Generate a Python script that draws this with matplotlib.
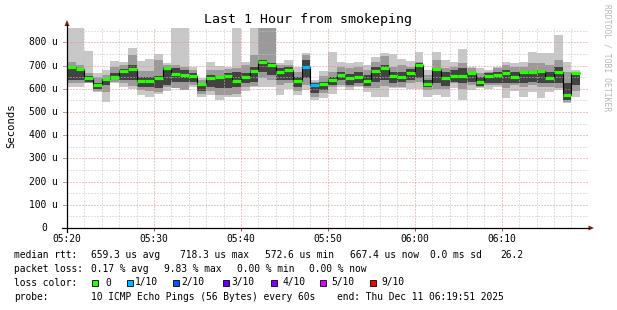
import numpy as np
import matplotlib
matplotlib.use("Agg")
import matplotlib.pyplot as plt
from matplotlib.patches import Rectangle, Polygon
from matplotlib.lines import Line2D

W, H = 617, 310

# one column per minute, 05:20 .. 06:18 (values in microseconds)
median = [695, 684, 646, 615, 644, 651, 678, 687, 635, 635, 646, 690, 664, 659, 654,
          621, 648, 650, 654, 635, 651, 678, 715, 702, 672, 682, 635, 695, 615, 621,
          638, 659, 646, 652, 635, 678, 690, 655, 652, 668, 702, 621, 684, 646, 654,
          655, 668, 628, 655, 658, 668, 651, 674, 672, 677, 648, 672, 572, 667]
loss = [0] * 27 + [1, 1] + [0] * 30

# smoke: outer (lightest), middle and inner (darkest) ranges
hi1 = [862, 862, 761, 667, 681, 720, 717, 774, 720, 727, 750, 710, 862, 862, 695,
       645, 717, 698, 695, 862, 717, 862, 862, 862, 710, 724, 695, 753, 638, 677,
       760, 717, 710, 717, 703, 739, 756, 750, 727, 720, 760, 681, 760, 724, 717,
       770, 695, 688, 681, 695, 717, 713, 717, 760, 756, 756, 832, 717, 681]
lo1 = [609, 606, 624, 588, 545, 624, 606, 598, 573, 566, 578, 592, 624, 624, 609,
       563, 573, 552, 566, 566, 592, 606, 606, 606, 573, 598, 573, 595, 552, 559,
       578, 606, 595, 606, 588, 566, 566, 602, 602, 598, 598, 566, 573, 566, 602,
       552, 595, 602, 598, 606, 559, 592, 566, 588, 559, 588, 595, 537, 563]
hi2 = [717, 703, 667, 649, 659, 695, 703, 746, 678, 678, 724, 703, 703, 695, 681,
       638, 681, 681, 684, 688, 703, 746, 862, 862, 703, 703, 674, 746, 631, 655,
       674, 695, 688, 695, 681, 717, 741, 695, 703, 695, 717, 659, 724, 688, 695,
       710, 688, 667, 674, 688, 703, 695, 695, 710, 710, 703, 724, 674, 674]
lo2 = [624, 624, 624, 592, 588, 631, 624, 612, 595, 592, 588, 606, 602, 595, 616,
       578, 592, 573, 573, 578, 606, 612, 645, 638, 616, 624, 592, 616, 566, 580,
       606, 616, 606, 612, 602, 602, 612, 606, 609, 624, 631, 595, 598, 598, 624,
       598, 616, 609, 616, 616, 602, 616, 606, 616, 606, 609, 602, 545, 592]
hi3 = [695, 681, 655, 626, 648, 670, 687, 703, 652, 649, 655, 695, 688, 681, 667,
       626, 659, 654, 670, 674, 667, 695, 724, 710, 688, 695, 649, 724, 624, 631,
       652, 674, 664, 674, 659, 695, 703, 674, 674, 684, 710, 638, 688, 674, 681,
       688, 674, 652, 667, 674, 681, 674, 678, 678, 681, 674, 695, 624, 659]
lo3 = [638, 638, 631, 598, 616, 641, 638, 638, 606, 606, 602, 616, 631, 631, 631,
       592, 606, 602, 602, 606, 624, 631, 673, 659, 638, 638, 606, 645, 580, 595,
       616, 638, 616, 624, 612, 631, 638, 624, 631, 638, 645, 606, 624, 612, 631,
       624, 631, 612, 624, 624, 624, 627, 624, 631, 627, 624, 624, 552, 616]

x_ticks = [0, 10, 20, 30, 40, 50]
x_labels = ["05:20", "05:30", "05:40", "05:50", "06:00", "06:10"]
y_ticks = [0, 100, 200, 300, 400, 500, 600, 700, 800]
y_labels = ["0", "100 u", "200 u", "300 u", "400 u", "500 u", "600 u", "700 u", "800 u"]

loss_names = ["0", "1/10", "2/10", "3/10", "4/10", "5/10", "9/10"]
loss_colors = ["#26ff00", "#00b8ff", "#0059ff", "#5e00ff", "#7e00ff", "#dd00ff", "#ff0000"]

MONO = "DejaVu Sans Mono"
FS = 6.9


def fx(x):
    return x / W


def fy(y):
    return 1 - y / H


fig = plt.figure(figsize=(W / 100, H / 100), dpi=100, facecolor="white")
ax = fig.add_axes([fx(67), fy(228), (588.7 - 67) / W, 200 / H])
ax.set_xlim(0, 60)
ax.set_ylim(0, 862)
for s in ax.spines.values():
    s.set_visible(False)

cols = np.arange(len(median))
ax.bar(cols, np.subtract(hi1, lo1), bottom=lo1, width=1, align="edge", color="#c8c8c8", lw=0)
ax.bar(cols, np.subtract(hi2, lo2), bottom=lo2, width=1, align="edge", color="#9a9a9a", lw=0)
ax.bar(cols, np.subtract(hi3, lo3), bottom=lo3, width=1, align="edge", color="#424242", lw=0)

ax.stairs(median, np.arange(len(median) + 1), baseline=None, color="black", lw=0.8, zorder=4)
ax.hlines(median, cols, cols + 1, colors=[loss_colors[l] for l in loss], lw=2.3,
          zorder=5, capstyle="butt")

# grid on top, rrdtool style
ax.set_xticks(x_ticks)
ax.set_xticks(np.arange(0, 61, 2), minor=True)
ax.set_yticks(y_ticks)
ax.set_yticks(np.arange(0, 862, 50), minor=True)
ax.set_axisbelow(False)
ax.grid(which="minor", color="#c4c4c4", ls=(0, (1, 2)), lw=0.72)
ax.grid(which="major", color="#e98a8a", ls=(0, (1, 2)), lw=0.72)
ax.set_xticklabels(x_labels, fontfamily=MONO, fontsize=FS)
ax.tick_params(axis="x", which="major", length=2.5, width=0.7, pad=2, color="#b04040")
ax.tick_params(axis="x", which="minor", length=0)
ax.tick_params(axis="y", which="both", length=0, labelleft=False)

ytr = ax.get_yaxis_transform()
for v, lab in zip(y_ticks, y_labels):
    xr = 58 if lab != "0" else 47
    ax.text((xr - 67) / 521.7, v, lab, transform=ytr, ha="right", va="center",
            fontfamily=MONO, fontsize=FS)
    ax.plot([(63 - 67) / 521.7, 0], [v, v], transform=ytr, clip_on=False,
            color="#e98a8a" if v else "black", lw=0.72)

# axes with arrows
fig.add_artist(Line2D([fx(62), fx(589)], [fy(228), fy(228)], color="black", lw=0.9))
fig.add_artist(Line2D([fx(67), fx(67)], [fy(232), fy(25)], color="black", lw=0.9))
fig.add_artist(Polygon([(fx(588.5), fy(225.5)), (fx(594), fy(228)), (fx(588.5), fy(230.5))],
                       closed=True, color="#8b1a1a", lw=0))
fig.add_artist(Polygon([(fx(64.5), fy(26)), (fx(67), fy(20)), (fx(69.5), fy(26))],
                       closed=True, color="#8b1a1a", lw=0))

fig.text(fx(308.5), fy(20), "Last 1 Hour from smokeping", ha="center", va="center",
         fontfamily=MONO, fontsize=9.5)
fig.text(fx(11), fy(126), "Seconds", rotation=90, ha="center", va="center",
         fontfamily=MONO, fontsize=7.6)
fig.text(fx(607), fy(4), "RRDTOOL / TOBI OETIKER", rotation=270, ha="center", va="top",
         fontfamily=MONO, fontsize=5.8, color="#b8b8b8")

# legend block
rows = [
    (255, [(14, "median rtt:"), (90.7, "659.3 us avg"), (180, "718.3 us max"),
           (265, "572.6 us min"), (350, "667.4 us now"), (430, "0.0 ms sd"), (500, "26.2")]),
    (269, [(14, "packet loss:"), (91, "0.17 % avg"), (164, "9.83 % max"),
           (236.7, "0.00 % min"), (309, "0.00 % now")]),
    (282.5, [(14, "loss color:")]),
    (296.5, [(14, "probe:"), (91, "10 ICMP Echo Pings (56 Bytes) every 60s"),
             (336.7, "end: Thu Dec 11 06:19:51 2025")]),
]
for yy, items in rows:
    for xx, s in items:
        fig.text(fx(xx), fy(yy), s, ha="left", va="center", fontfamily=MONO, fontsize=FS)

sq_x = [91.7, 126.7, 173.3, 222.7, 271, 320, 370]
lab_x = [105, 135, 181.7, 231, 282.7, 331.7, 381]
for sx, lx, name, c in zip(sq_x, lab_x, loss_names, loss_colors):
    fig.add_artist(Rectangle((fx(sx), fy(285.5)), 6 / W, 6 / H, transform=fig.transFigure,
                             facecolor=c, edgecolor="black", lw=0.6))
    fig.text(fx(lx), fy(282.5), name, ha="left", va="center", fontfamily=MONO, fontsize=FS)

fig.savefig("out.png", dpi=100, facecolor="white")
